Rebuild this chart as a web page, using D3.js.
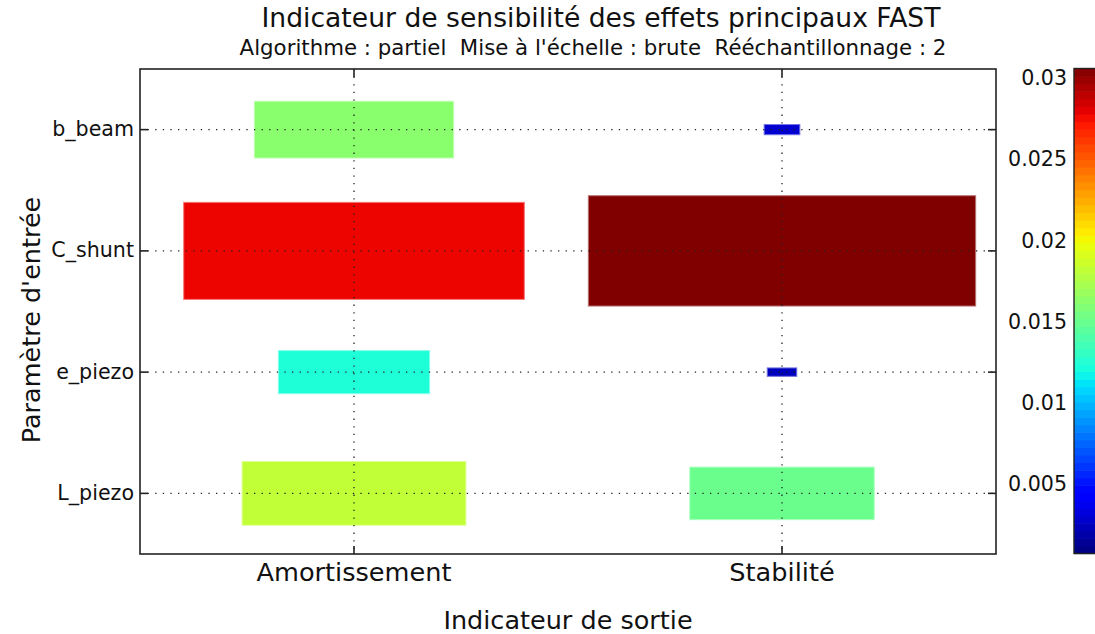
<!DOCTYPE html>
<html>
<head>
<meta charset="utf-8">
<script src="https://cdn.jsdelivr.net/npm/d3@7"></script>
<style>
  html, body { margin: 0; padding: 0; background: #fff; }
  svg { display: block; font-family: "DejaVu Sans", sans-serif; }
</style>
</head>
<body>
<svg id="chart" width="1095" height="634"></svg>
<script>
// Output indicators (columns) and input parameters (rows)
const outputs = ["Amortissement", "Stabilité"];
const inputs = ["b_beam", "C_shunt", "e_piezo", "L_piezo"];

// FAST main-effect sensitivity index per input, for each output
const amortissement = [0.0162, 0.0277, 0.0123, 0.0182];
const stabilite = [0.0029, 0.0315, 0.0024, 0.0150];

// Colour bar range and ticks
const colorDomain = [0.0007, 0.0306];
const colorTicks = [0.005, 0.01, 0.015, 0.02, 0.025, 0.03];
const colorTickLabels = ["0.005", "0.01", "0.015", "0.02", "0.025", "0.03"];

const title = "Indicateur de sensibilité des effets principaux FAST";
const subtitle = "Algorithme : partiel  Mise à l'échelle : brute  Rééchantillonnage : 2";
const xTitle = "Indicateur de sortie";
const yTitle = "Paramètre d'entrée";

const cells = [];
inputs.forEach((inp, i) => {
  cells.push({ input: inp, output: outputs[0], value: amortissement[i] });
  cells.push({ input: inp, output: outputs[1], value: stabilite[i] });
});

// matplotlib "jet" colormap segments
const jetSeg = {
  r: [[0, 0], [0.35, 0], [0.66, 1], [0.89, 1], [1, 0.5]],
  g: [[0, 0], [0.125, 0], [0.375, 1], [0.64, 1], [0.91, 0], [1, 0]],
  b: [[0, 0.5], [0.11, 1], [0.34, 1], [0.65, 0], [1, 0]]
};
function segVal(seg, t) {
  for (let k = 1; k < seg.length; k++) {
    if (t <= seg[k][0]) {
      const [x0, y0] = seg[k - 1], [x1, y1] = seg[k];
      return y0 + (y1 - y0) * (t - x0) / (x1 - x0);
    }
  }
  return seg[seg.length - 1][1];
}
function jet(t) {
  t = Math.max(0, Math.min(1, t));
  t = Math.floor(t * 255.999) / 255; // 256-level lookup table
  return d3.rgb(segVal(jetSeg.r, t) * 255, segVal(jetSeg.g, t) * 255, segVal(jetSeg.b, t) * 255).formatHex();
}

const svg = d3.select("#chart");
const plot = { left: 140, right: 996, top: 69, bottom: 554 };

const x = d3.scaleBand().domain(outputs).range([plot.left, plot.right]).padding(0);
const y = d3.scaleBand().domain(inputs).range([plot.top, plot.bottom]).padding(0);
const vmax = d3.max(cells, d => d.value);
const wScale = d3.scaleLinear().domain([0, vmax]).range([0, x.bandwidth() * 0.905]);
const hScale = d3.scaleLinear().domain([0, vmax]).range([0, y.bandwidth() * 0.91]);
const tScale = d3.scaleLinear().domain(colorDomain).range([0, 1]).clamp(true);
const color = v => jet(tScale(v));

// Cells: rectangles sized and coloured by the index
svg.append("g").selectAll("rect").data(cells).join("rect")
  .attr("x", d => x(d.output) + x.bandwidth() / 2 - wScale(d.value) / 2)
  .attr("y", d => y(d.input) + y.bandwidth() / 2 - hScale(d.value) / 2)
  .attr("width", d => wScale(d.value))
  .attr("height", d => hScale(d.value))
  .attr("fill", d => color(d.value))
  .attr("stroke", d => d3.interpolateRgb(color(d.value), "#ffffff")(0.45))
  .attr("stroke-width", 1);

// Dotted grid on top of the cells
const grid = svg.append("g").attr("stroke", "#222").attr("stroke-width", 1.3)
  .attr("stroke-dasharray", "1.3,6.3").attr("stroke-linecap", "butt");
grid.selectAll(".gx").data(outputs).join("line")
  .attr("x1", d => x(d) + x.bandwidth() / 2).attr("x2", d => x(d) + x.bandwidth() / 2)
  .attr("y1", plot.top).attr("y2", plot.bottom);
grid.selectAll(".gy").data(inputs).join("line")
  .attr("y1", d => y(d) + y.bandwidth() / 2).attr("y2", d => y(d) + y.bandwidth() / 2)
  .attr("x1", plot.left).attr("x2", plot.right);

// Axes with inward ticks on all four sides
const tickLen = 8;
const xAxisB = d3.axisBottom(x).tickSize(-tickLen).tickPadding(9);
const xAxisT = d3.axisTop(x).tickSize(-tickLen).tickFormat("");
const yAxisL = d3.axisLeft(y).tickSize(-tickLen).tickPadding(6);
const yAxisR = d3.axisRight(y).tickSize(-tickLen).tickFormat("");

function styleAxis(g, fs) {
  g.select(".domain").remove();
  g.selectAll(".tick line").attr("stroke", "#222").attr("stroke-width", 1.6);
  g.selectAll(".tick text").attr("fill", "#111").style("font-size", fs + "px")
    .style("font-family", "DejaVu Sans, sans-serif");
}
svg.append("g").attr("transform", `translate(0,${plot.bottom})`).call(xAxisB).call(g => styleAxis(g, 25.6));
svg.append("g").attr("transform", `translate(0,${plot.top})`).call(xAxisT).call(g => styleAxis(g, 20));
svg.append("g").attr("transform", `translate(${plot.left},0)`).call(yAxisL).call(g => styleAxis(g, 20.6));
svg.append("g").attr("transform", `translate(${plot.right},0)`).call(yAxisR).call(g => styleAxis(g, 20));

// Plot frame
svg.append("rect")
  .attr("x", plot.left).attr("y", plot.top)
  .attr("width", plot.right - plot.left).attr("height", plot.bottom - plot.top)
  .attr("fill", "none").attr("stroke", "#222").attr("stroke-width", 1.6);

// Titles
svg.append("text").attr("x", 601).attr("y", 27).attr("text-anchor", "middle")
  .style("font-size", "26.6px").attr("fill", "#111").text(title);
svg.append("text").attr("x", 593).attr("y", 55).attr("text-anchor", "middle")
  .style("font-size", "21.3px").style("white-space", "pre").attr("xml:space", "preserve")
  .attr("fill", "#111").text(subtitle);
svg.append("text").attr("x", 568).attr("y", 629).attr("text-anchor", "middle")
  .style("font-size", "25.5px").attr("fill", "#111").text(xTitle);
svg.append("text").attr("transform", "translate(31,320) rotate(-90)").attr("text-anchor", "middle")
  .attr("dy", "0.35em")
  .style("font-size", "25.5px").attr("fill", "#111").text(yTitle);

// Colour bar
const cb = { x: 1074, width: 30, top: 68.5, bottom: 553.5 };
const cbScale = d3.scaleLinear().domain(colorDomain).range([cb.bottom, cb.top]);
const nLevels = 64;
const levels = d3.range(nLevels).map(i => colorDomain[0] + (colorDomain[1] - colorDomain[0]) * i / nLevels);
const step = (colorDomain[1] - colorDomain[0]) / nLevels;
svg.append("g").selectAll("rect").data(levels).join("rect")
  .attr("x", cb.x).attr("width", cb.width)
  .attr("y", d => cbScale(d + step))
  .attr("height", d => cbScale(d) - cbScale(d + step) + 0.6)
  .attr("fill", d => color(d + step / 2));
svg.append("rect").attr("x", cb.x).attr("y", cb.top).attr("width", cb.width)
  .attr("height", cb.bottom - cb.top).attr("fill", "none").attr("stroke", "#222").attr("stroke-width", 1.4);
const cbAxis = d3.axisLeft(cbScale).tickValues(colorTicks)
  .tickFormat((d, i) => colorTickLabels[i]).tickSize(0).tickPadding(7);
svg.append("g").attr("transform", `translate(${cb.x},0)`).call(cbAxis).call(g => styleAxis(g, 20.6));
</script>
</body>
</html>
